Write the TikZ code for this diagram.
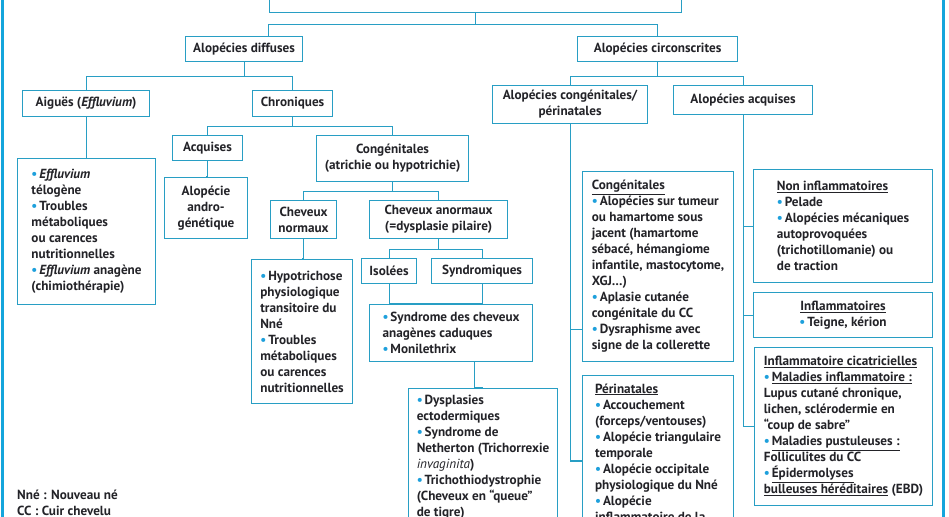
\documentclass[tikz,border=0pt]{standalone}
\usepackage{fontspec}
\setmainfont{PT Sans}
\usepackage{tikz}
\definecolor{lineblue}{RGB}{40,158,196}
\definecolor{frameblue}{RGB}{20,165,220}
\definecolor{dotblue}{RGB}{30,160,220}
\definecolor{textdark}{RGB}{35,35,40}
\newcommand{\bul}{{\color{dotblue}\textbullet}\kern2pt}
\newcommand{\boxfont}{\bfseries\fontsize{13.2}{16}\selectfont}

\begin{document}
\begin{tikzpicture}[
  x=1pt, y=-1pt,
  box/.style={draw=lineblue, line width=1.1pt, fill=white, text=textdark,
    font=\boxfont, inner xsep=3pt, inner ysep=0pt, align=center,
    anchor=north west},
  listbox/.style={box, align=left},
  legend/.style={font=\boxfont, text=textdark, align=left,
    anchor=north west, inner sep=0pt},
  link/.style={draw=lineblue, line width=1.1pt},
  frame/.style={draw=frameblue, line width=3pt},
]
\useasboundingbox (0,0) rectangle (949,516);
\clip (0,0) rectangle (949,516);
\fill[white] (0,0) rectangle (949,516);

% outer frame
\draw[frame] (2.5,-5) -- (2.5,530);
\draw[frame] (943.5,-5) -- (943.5,530);

% ===== root =====
\node[box, minimum width=412pt, minimum height=32pt] (root) at (269,-20) {};

% ===== LEFT: alopecies diffuses =====
\node[box, minimum width=117pt, minimum height=25pt] (diff) at (185,36) {Alopécies diffuses};
\node[box, minimum width=127pt, minimum height=26pt] (aig) at (22,90) {Aiguës (\textit{Effluvium})};
\node[box, minimum width=80pt, minimum height=26pt] (chro) at (252,90) {Chroniques};
\node[listbox, minimum width=138pt, minimum height=146pt] (effl) at (17,158)
  {\bul\textit{Effluvium}\\
   télogène\\
   \bul Troubles\\
   métaboliques\\
   ou carences\\
   nutritionnelles\\
   \bul\textit{Effluvium} anagène\\
   (chimiothérapie)};
\node[box, minimum width=70pt, minimum height=25pt] (acq) at (172,135) {Acquises};
\node[box, minimum width=83pt, minimum height=61pt] (andro) at (164,177) {Alopécie\\andro-\\génétique};
\node[box, minimum width=152pt, minimum height=46pt] (cong) at (316,135) {Congénitales\\(atrichie ou hypotrichie)};
\node[box, minimum width=66pt, minimum height=38pt] (norm) at (270,200) {Cheveux\\normaux};
\node[box, minimum width=138pt, minimum height=38pt] (anorm) at (369,200) {Cheveux anormaux\\(=dysplasie pilaire)};
\node[listbox, minimum width=101pt, minimum height=144pt] (hypo) at (251,259)
  {\bul Hypotrichose\\
   physiologique\\
   transitoire du\\
   Nné\\
   \bul Troubles\\
   métaboliques\\
   ou carences\\
   nutritionnelles};
\node[box, minimum width=55pt, minimum height=25pt] (isol) at (361,258) {Isolées};
\node[box, minimum width=101pt, minimum height=25pt] (synd) at (431,258) {Syndromiques};
\node[listbox, minimum width=163pt, minimum height=57pt] (anag) at (369,304)
  {\bul Syndrome des cheveux\\
   anagènes caduques\\
   \bul Monilethrix};
\node[listbox, minimum width=149pt, inner ysep=7pt] (dysp) at (408,388)
  {\bul Dysplasies\\
   ectodermiques\\
   \bul Syndrome de\\
   Netherton (Trichorrexie\\
   \textit{\mdseries invaginita})\\
   \bul Trichothiodystrophie\\
   (Cheveux en “queue”\\
   de tigre)};

% ===== RIGHT: alopecies circonscrites =====
\node[box, minimum width=160pt, minimum height=25pt] (circ) at (577,36) {Alopécies circonscrites};
\node[box, minimum width=155pt, minimum height=38pt] (congper) at (492,85) {Alopécies congénitales/\\périnatales};
\node[box, minimum width=139pt, minimum height=29pt] (acqu) at (673,85) {Alopécies acquises};
\node[listbox, minimum width=151pt, minimum height=190pt] (congen) at (582,171)
  {\underline{Congénitales}\\
   \bul Alopécies sur tumeur\\
   ou hamartome sous\\
   jacent (hamartome\\
   sébacé, hémangiome\\
   infantile, mastocytome,\\
   XGJ…)\\
   \bul Aplasie cutanée\\
   congénitale du CC\\
   \bul Dysraphisme avec\\
   signe de la collerette};
\node[listbox, minimum width=151pt, inner ysep=8pt] (perin) at (582,375)
  {\underline{Périnatales}\\
   \bul Accouchement\\
   (forceps/ventouses)\\
   \bul Alopécie triangulaire\\
   temporale\\
   \bul Alopécie occipitale\\
   physiologique du Nné\\
   \bul Alopécie\\
   inflammatoire de la};
\node[listbox, minimum width=179pt, minimum height=113pt] (noninf) at (753,169)
  {\underline{Non inflammatoires}\\
   \bul Pelade\\
   \bul Alopécies mécaniques\\
   autoprovoquées\\
   (trichotillomanie) ou\\
   de traction};
\node[box, minimum width=179pt, minimum height=45pt] (inf) at (753,292)
  {\underline{Inflammatoires}\\\bul Teigne, kérion};
\node[listbox, minimum width=178pt, minimum height=158pt] (cica) at (754,347)
  {\underline{Inflammatoire cicatricielles}\\
   \bul\underline{Maladies inflammatoire :}\\
   Lupus cutané chronique,\\
   lichen, sclérodermie en\\
   “coup de sabre”\\
   \bul\underline{Maladies pustuleuses :}\\
   Folliculites du CC\\
   \bul\underline{Épidermolyses}\\
   \underline{bulleuses héréditaires} (EBD)};

% legend
\node[legend] (abbr) at (17,490) {Nné : Nouveau né\\CC : Cuir chevelu};

% ===== connectors =====
\draw[link] (root.south) -- ++(0,11) -| ([xshift=24.5pt]diff.north);
\draw[link] (root.south) -- ++(0,11) -| (circ.north);

\draw[link] (diff.south) -- ++(0,14) -| (aig.north);
\draw[link] (diff.south) -- ++(0,14) -| (chro.north);
\draw[link] (aig.south) |- (effl.north);
\draw[link] (chro.south) -- ++(0,9) -| (acq.north);
\draw[link] (chro.south) -- ++(0,9) -| (cong.north);
\draw[link] (acq.south) |- (andro.north);
\draw[link] (cong.south) -- ++(0,9) -| (norm.north);
\draw[link] (cong.south) -- ++(0,9) -| (anorm.north);
\draw[link] (norm.south) |- (hypo.north);
\draw[link] (anorm.south) -- ++(0,10) -| (isol.north);
\draw[link] (anorm.south) -- ++(0,10) -| (synd.north);
\draw[link] (isol.south) |- (anag.north);
\draw[link] (synd.south) |- (anag.north);
\draw[link] ([xshift=23.5pt]anag.south) |- (dysp.north);

\draw[link] (circ.south) -- ++(0,14) -| (congper.north);
\draw[link] (circ.south) -- ++(0,14) -| (acqu.north);
\draw[link] (congper.south) |- ([yshift=33pt]congen.south west);
\draw[link] (congper.south) |- ([yshift=-86pt]perin.north west);
\draw[link] (acqu.south) |- (noninf.west);
\draw[link] (acqu.south) |- (inf.west);
\draw[link] (acqu.south) |- (cica.west);

\end{tikzpicture}
\end{document}
